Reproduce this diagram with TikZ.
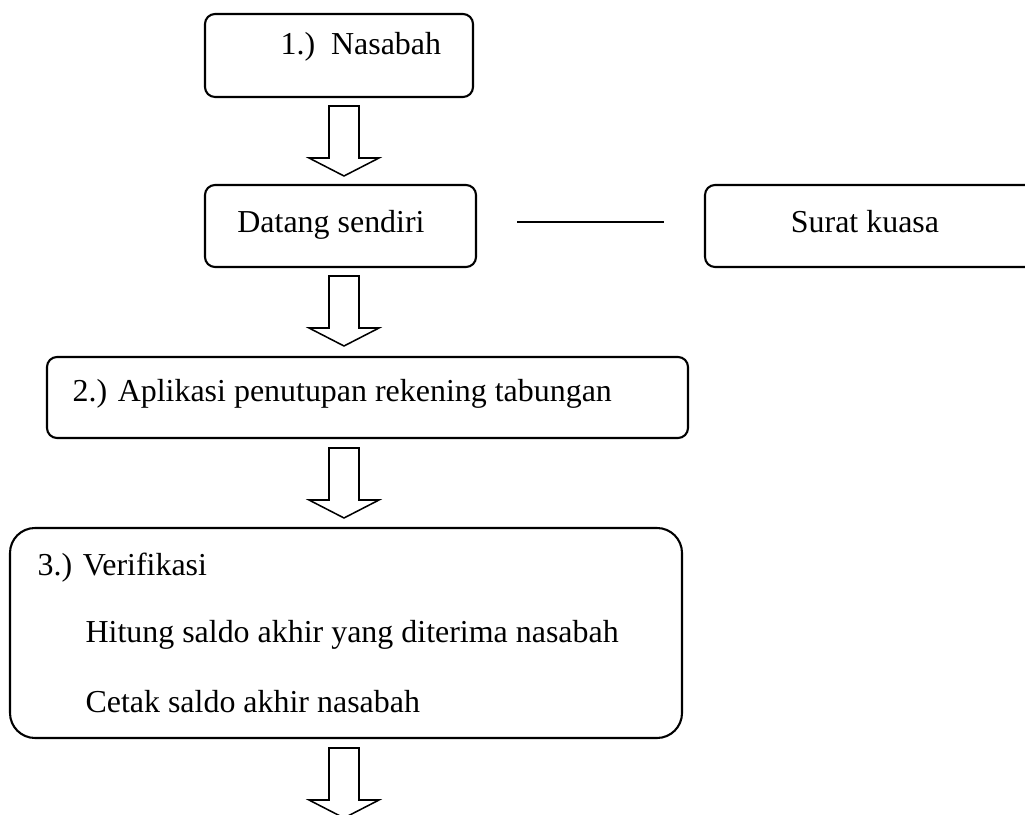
\documentclass[tikz,border=0pt]{standalone}
\usepackage{fontspec}
\setmainfont{Liberation Serif}
\usetikzlibrary{fit,calc}
\begin{document}
\begin{tikzpicture}[x=0.36pt,y=-0.36pt,
  box/.style={draw, line width=0.75pt, rounded corners=3.6pt, inner sep=0pt},
  bigbox/.style={box, rounded corners=9pt},
  txt/.style={font=\fontsize{11.5}{14}\selectfont, anchor=base west, inner sep=0pt},
  blk/.style={draw, line width=0.55pt, fill=white, line join=miter},
  link/.style={draw, line width=0.75pt}]
\useasboundingbox (0,0) rectangle (1025,815);
\clip (0,0) rectangle (1025,815);
% boxes
\node[box, fit={(205,14) (473,97)}] (nasabah) {};
\node[box, fit={(205,185) (476,267)}] (datang) {};
\node[box, fit={(705,185) (1045,267)}] (surat) {};
\node[box, fit={(47,357) (688,438)}] (aplikasi) {};
\node[bigbox, fit={(10,528) (682,738)}] (verif) {};
% texts
\node[txt] (t1) at (280,55) {1.)\ \ Nasabah};
\node[txt, anchor=base] (t2) at (331,233) {Datang sendiri};
\node[txt, anchor=base] (t3) at (865,233) {Surat kuasa};
\node[txt] (t4) at (72,402) {2.) Aplikasi penutupan rekening tabungan};
\node[txt] (t5) at (37,576) {3.) Verifikasi};
\node[txt] (t6) at (85,642) {Hitung saldo akhir yang diterima nasabah};
\node[txt] (t7) at (85,712) {Cetak saldo akhir nasabah};
% connector line
\coordinate (la) at ($(datang.east)+(40,-4)$);
\coordinate (lb) at ($(surat.west)+(-40,-4)$);
\draw[link] (la) -- (lb);
% block arrows
\newcommand\blockarrow[2]{%
  \draw[blk] (#1-15,#2) -- (#1+15,#2) -- (#1+15,#2+52) -- (#1+35,#2+52)
    -- (#1,#2+70) -- (#1-35,#2+52) -- (#1-15,#2+52) -- cycle;}
\blockarrow{344}{106}
\blockarrow{344}{276}
\blockarrow{344}{448}
\blockarrow{344}{748}
\end{tikzpicture}
\end{document}
